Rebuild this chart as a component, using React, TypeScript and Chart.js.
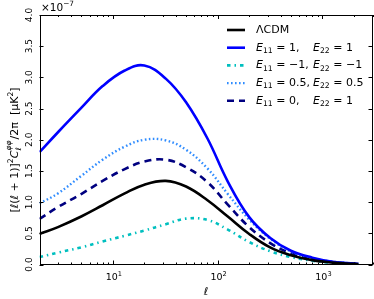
import React, { useEffect, useRef } from 'react';
import { Chart, registerables } from 'chart.js';
Chart.register(...registerables);

// multipole ell (roughly even in log ell)
const ELL = [2, 3, 5, 8, 13, 20, 32, 50, 80, 125, 200, 320, 500, 800, 1250, 2000, 2200];
// values in units of 1e-7 muK^2
const LCDM = [0.49, 0.6, 0.77, 0.95, 1.14, 1.28, 1.34, 1.25, 1.03, 0.77, 0.49, 0.27, 0.15, 0.07, 0.03, 0.01, 0.007];
const E11_1_E22_1 = [1.8, 2.12, 2.51, 2.86, 3.11, 3.19, 2.98, 2.6, 2.02, 1.33, 0.76, 0.42, 0.22, 0.11, 0.045, 0.015, 0.01];
const E11_m1_E22_m1 = [0.12, 0.19, 0.275, 0.37, 0.46, 0.545, 0.645, 0.735, 0.715, 0.56, 0.36, 0.21, 0.12, 0.06, 0.025, 0.008, 0.005];
const E11_05_E22_05 = [0.98, 1.14, 1.42, 1.68, 1.89, 2.0, 1.99, 1.84, 1.54, 1.13, 0.72, 0.41, 0.21, 0.1, 0.045, 0.015, 0.01];
const E11_0_E22_1 = [0.73, 0.92, 1.13, 1.34, 1.53, 1.65, 1.68, 1.56, 1.32, 0.96, 0.6, 0.34, 0.18, 0.09, 0.04, 0.013, 0.008];

const Y_TICKS = [0, 0.5, 1, 1.5, 2, 2.5, 3, 3.5, 4];
const X_MAJOR = [10, 100, 1000];
const X_MAJOR_EXP = ['1', '2', '3'];
const X_MIN = 2;
const X_MAX = 3000;

const E11_VALUES = ['1,', '\u22121,', '0.5,', '0,'];
const E22_VALUES = ['1', '\u22121', '0.5', '1'];

type Seg = { t?: string; it?: boolean; s?: number; dy?: number; sub?: string; sup?: string };
const FAM = '"DejaVu Sans"';

function fontOf(base: number, seg: { it?: boolean; s?: number }) {
  return `${seg.it ? 'italic ' : ''}${base * (seg.s || 1)}px ${FAM}`;
}

function segWidth(ctx: CanvasRenderingContext2D, base: number, seg: Seg) {
  if (seg.sub !== undefined || seg.sup !== undefined) {
    ctx.font = fontOf(base, { it: true, s: 0.7 });
    const a = ctx.measureText(seg.sub || '').width;
    const b = ctx.measureText(seg.sup || '').width;
    return Math.max(a, b) + 1;
  }
  ctx.font = fontOf(base, seg);
  return ctx.measureText(seg.t || '').width;
}

function drawRich(ctx: CanvasRenderingContext2D, segs: Seg[], x: number, y: number, base: number, align: 'left' | 'center') {
  const total = segs.reduce((w, s) => w + segWidth(ctx, base, s), 0);
  let cx = align === 'center' ? x - total / 2 : x;
  ctx.textAlign = 'left';
  ctx.textBaseline = 'middle';
  for (const s of segs) {
    const w = segWidth(ctx, base, s);
    if (s.sub !== undefined || s.sup !== undefined) {
      ctx.font = fontOf(base, { it: true, s: 0.7 });
      if (s.sub) ctx.fillText(s.sub, cx, y + 0.35 * base);
      if (s.sup) ctx.fillText(s.sup, cx, y - 0.5 * base);
    } else {
      ctx.font = fontOf(base, s);
      ctx.fillText(s.t || '', cx, y + (s.dy || 0) * base);
    }
    cx += w;
  }
}

const SERIES = [
  { name: 'LCDM', data: LCDM, color: '#000000', dash: [] as number[], width: 2.6 },
  { name: 'E11=1,E22=1', data: E11_1_E22_1, color: '#0000ff', dash: [] as number[], width: 2.6 },
  { name: 'E11=-1,E22=-1', data: E11_m1_E22_m1, color: '#00bfbf', dash: [3.5, 4, 1.5, 4], width: 2.6 },
  { name: 'E11=0.5,E22=0.5', data: E11_05_E22_05, color: '#2f8cff', dash: [1.6, 2.4], width: 2.4 },
  { name: 'E11=0,E22=1', data: E11_0_E22_1, color: '#000080', dash: [7, 5], width: 2.6 },
];

const decoPlugin = {
  id: 'deco',
  afterDraw(chart: any) {
    const ctx: CanvasRenderingContext2D = chart.ctx;
    const { left, right, top, bottom } = chart.chartArea;
    const xs = chart.scales.x;
    const ys = chart.scales.y;
    ctx.save();
    ctx.fillStyle = '#000';
    ctx.strokeStyle = '#000';
    ctx.lineWidth = 1;
    // frame
    ctx.strokeRect(Math.round(left) + 0.5, Math.round(top) + 0.5, Math.round(right - left) - 1, Math.round(bottom - top) - 1);
    // x ticks (inward, top and bottom)
    for (let e = 0; e <= 3; e++) {
      for (let m = 1; m <= 9; m++) {
        const v = m * Math.pow(10, e);
        if (v < X_MIN || v > X_MAX) continue;
        const px = Math.round(xs.getPixelForValue(v)) + 0.5;
        const len = m === 1 ? 4 : 2;
        ctx.beginPath();
        ctx.moveTo(px, bottom);
        ctx.lineTo(px, bottom - len);
        ctx.moveTo(px, top);
        ctx.lineTo(px, top + len);
        ctx.stroke();
      }
    }
    // y ticks
    for (const v of Y_TICKS) {
      const py = Math.round(ys.getPixelForValue(v)) + 0.5;
      ctx.beginPath();
      ctx.moveTo(left, py);
      ctx.lineTo(left + 4, py);
      ctx.moveTo(right, py);
      ctx.lineTo(right - 4, py);
      ctx.stroke();
    }
    // x tick labels
    X_MAJOR.forEach((v, i) => {
      const px = xs.getPixelForValue(v);
      drawRich(ctx, [{ t: '10' }, { t: X_MAJOR_EXP[i], s: 0.7, dy: -0.4 }], px + 1, 278, 9.5, 'center');
    });
    // x title
    drawRich(ctx, [{ t: '\u2113', it: true }], (left + right) / 2, 292, 11, 'center');
    // y tick labels (rotated)
    for (const v of Y_TICKS) {
      const py = ys.getPixelForValue(v);
      ctx.save();
      ctx.translate(30, py);
      ctx.rotate(-Math.PI / 2);
      ctx.font = `9px ${FAM}`;
      ctx.textAlign = 'center';
      ctx.textBaseline = 'middle';
      ctx.fillText(v.toFixed(1), 0, 0);
      ctx.restore();
    }
    // y title
    ctx.save();
    ctx.translate(15, 150);
    ctx.rotate(-Math.PI / 2);
    drawRich(
      ctx,
      [
        { t: '[' },
        { t: '\u2113', it: true },
        { t: '(' },
        { t: '\u2113', it: true },
        { t: ' + 1)]' },
        { t: '2', s: 0.7, dy: -0.4 },
        { t: 'C', it: true },
        { sub: '\u2113', sup: '\u03c6\u03c6' },
        { t: '/2\u03c0  [\u03bcK' },
        { t: '2', s: 0.7, dy: -0.4 },
        { t: ']' },
      ],
      0,
      0,
      11,
      'center'
    );
    ctx.restore();
    // multiplier
    drawRich(ctx, [{ t: '\u00d710' }, { t: '\u22127', s: 0.7, dy: -0.4 }], 41, 8, 10.5, 'left');
    // legend
    SERIES.forEach((s, i) => {
      const y = 30 + i * 17.7;
      ctx.save();
      ctx.strokeStyle = s.color;
      ctx.lineWidth = s.width;
      ctx.setLineDash(s.dash);
      ctx.beginPath();
      ctx.moveTo(227, y);
      ctx.lineTo(245, y);
      ctx.stroke();
      ctx.restore();
      if (i === 0) {
        drawRich(ctx, [{ t: '\u039bCDM' }], 256, y, 11, 'left');
      } else {
        drawRich(ctx, [{ t: 'E', it: true }, { t: '11', s: 0.7, dy: 0.3 }, { t: ' = ' + E11_VALUES[i - 1] }], 256, y, 11, 'left');
        drawRich(ctx, [{ t: 'E', it: true }, { t: '22', s: 0.7, dy: 0.3 }, { t: ' = ' + E22_VALUES[i - 1] }], 313, y, 11, 'left');
      }
    });
    ctx.restore();
  },
};

export default function App() {
  const ref = useRef<HTMLCanvasElement>(null);
  useEffect(() => {
    if (!ref.current) return;
    const chart = new Chart(ref.current, {
      type: 'line',
      data: {
        datasets: SERIES.map((s) => ({
          label: s.name,
          data: ELL.map((x, i) => ({ x, y: s.data[i] })),
          borderColor: s.color,
          borderWidth: s.width,
          borderDash: s.dash,
          pointRadius: 0,
          fill: false,
          tension: 0.4,
        })),
      },
      options: {
        animation: false,
        responsive: false,
        devicePixelRatio: 1,
        layout: { padding: { left: 39.5, right: 1.5, top: 15, bottom: 34.5 } },
        plugins: { legend: { display: false }, tooltip: { enabled: false } },
        scales: {
          x: { type: 'logarithmic', min: X_MIN, max: X_MAX, display: false },
          y: { type: 'linear', min: 0, max: 4, display: false },
        },
      },
      plugins: [decoPlugin],
    });
    return () => chart.destroy();
  }, []);
  return (
    <div style={{ position: 'fixed', left: 0, top: 0, width: 374, height: 299, background: '#fff' }}>
      <canvas ref={ref} width={374} height={299} />
    </div>
  );
}
